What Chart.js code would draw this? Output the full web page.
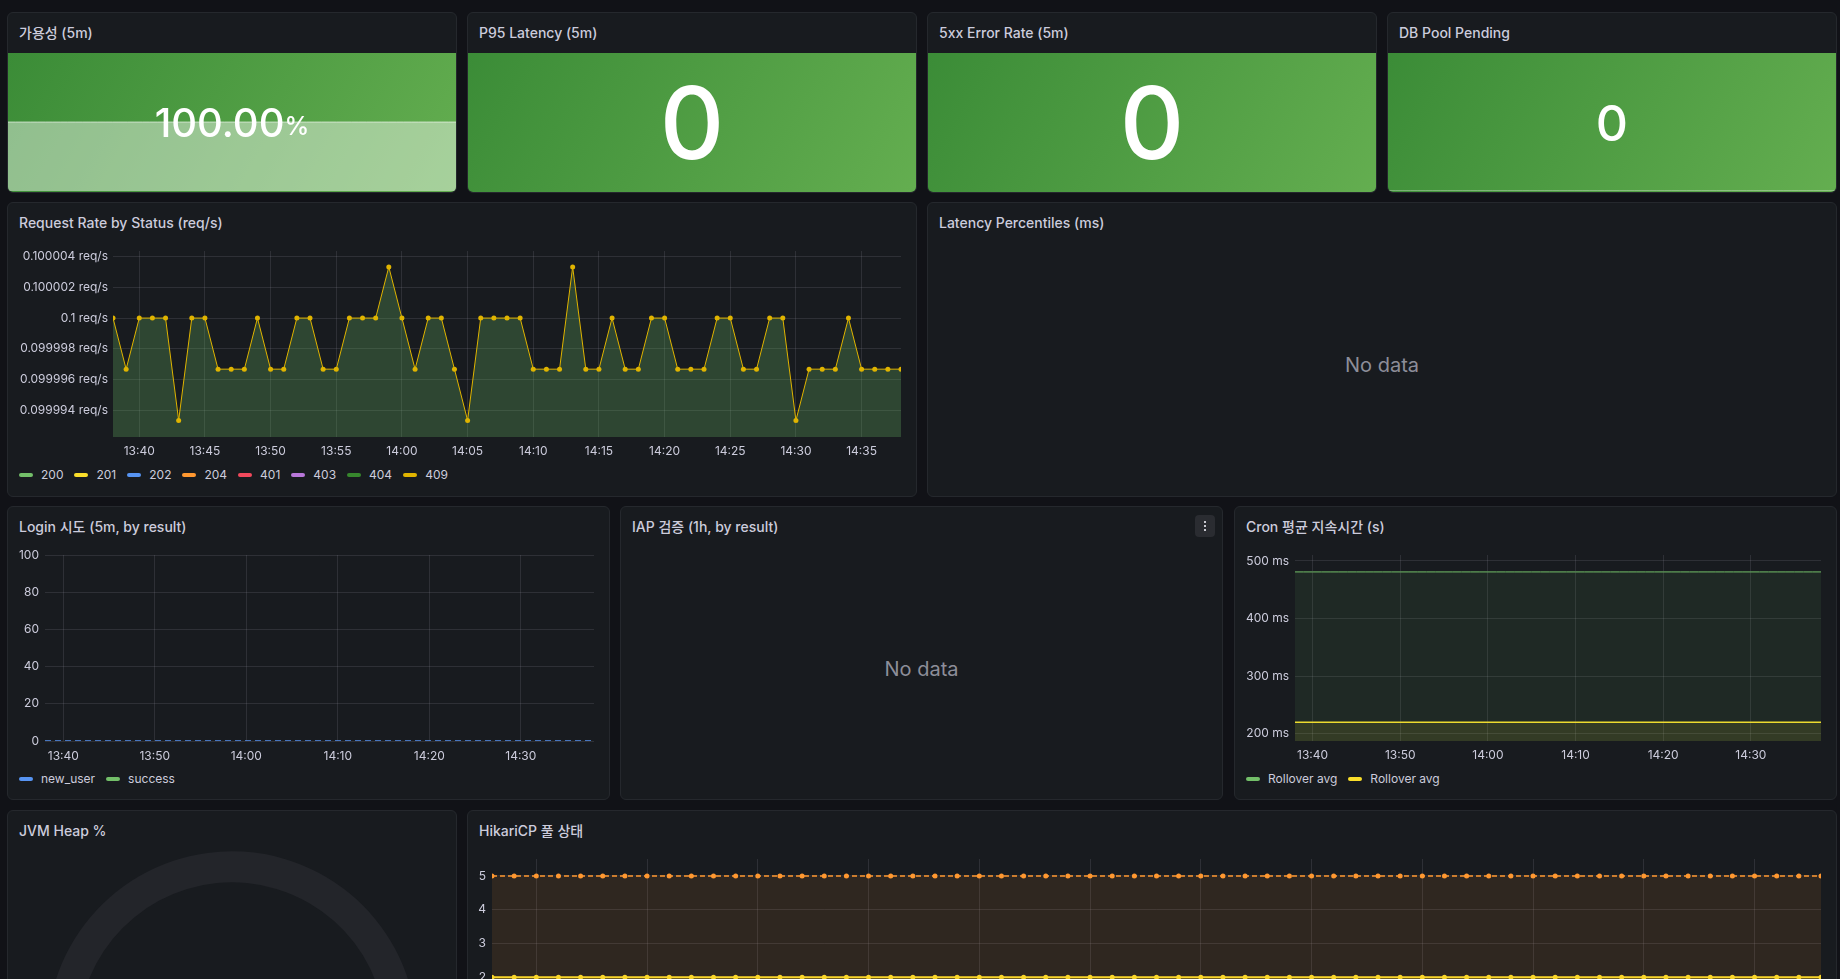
<!DOCTYPE html>
<html>
<head>
<meta charset="utf-8">
<script src="https://cdn.jsdelivr.net/npm/chart.js@4.4.1/dist/chart.umd.min.js"></script>
<style>
  body { margin: 0; width: 1840px; height: 979px; overflow: hidden; background: #111217;
         font-family: Inter, "Noto Sans CJK KR", sans-serif; color: #ccccdc; }
  .panel { position: absolute; box-sizing: border-box; background: #181b1f; border: 1px solid #25282d;
           border-radius: 6px; overflow: hidden; }
  .title { position: absolute; left: 11px; top: 11px; font-size: 14px; line-height: 18px; font-weight: 500;
           color: #ccccdc; white-space: nowrap; }
  .stat { position: absolute; left: 0; right: 0; top: 40px; bottom: 0;
          background: linear-gradient(120deg, #3b8c37, #64ae50); }
  .stat .spark { position: absolute; inset: 0; }
  .stat .value { position: absolute; inset: 0; display: flex; align-items: center; justify-content: center;
                 color: #fff; font-weight: 500; line-height: 1; }
  .plot { position: absolute; left: 0; top: 40px; height: 220px; }
  .legend { position: absolute; left: 11px; top: 264px; display: flex; gap: 11px; font-size: 12px; line-height: 16px; }
  .legend span { display: flex; align-items: center; }
  .legend i { display: inline-block; width: 14px; height: 4px; border-radius: 2px; margin-right: 8px; }
  .nodata { position: absolute; left: 0; right: 0; top: 150px; text-align: center; font-size: 20px;
            line-height: 24px; color: #8d8e99; }
  .menu { position: absolute; right: 7px; top: 8px; width: 20px; height: 22px; border-radius: 4px; background: #2a2c31;
          display: flex; flex-direction: column; align-items: center; justify-content: center; gap: 2px; }
  .menu b { width: 2px; height: 2px; background: #c8c9d0; }
</style>
</head>
<body>

<div class="panel" style="left:7px;top:12px;width:450px;height:181px">
  <div class="title">가용성 (5m)</div>
  <div class="stat">
    <div class="spark"><canvas id="availSpark"></canvas></div>
    <div class="value"><span style="font-size:40px">100.00</span><span style="font-size:25px;margin-top:8px">%</span></div>
  </div>
</div>
<div class="panel" style="left:467px;top:12px;width:450px;height:181px">
  <div class="title">P95 Latency (5m)</div>
  <div class="stat"><div class="value" id="p95Value" style="font-size:100px"></div></div>
</div>
<div class="panel" style="left:927px;top:12px;width:450px;height:181px">
  <div class="title">5xx Error Rate (5m)</div>
  <div class="stat"><div class="value" id="errValue" style="font-size:100px"></div></div>
</div>
<div class="panel" style="left:1387px;top:12px;width:450px;height:181px">
  <div class="title">DB Pool Pending</div>
  <div class="stat">
    <div class="spark"><canvas id="poolSpark"></canvas></div>
    <div class="value" id="poolValue" style="font-size:50px"></div>
  </div>
</div>

<div class="panel" style="left:7px;top:202px;width:910px;height:295px">
  <div class="title">Request Rate by Status (req/s)</div>
  <div class="plot" style="width:905px"><canvas id="requestChart"></canvas></div>
  <div class="legend" id="requestLegend"></div>
</div>
<div class="panel" style="left:927px;top:202px;width:910px;height:295px">
  <div class="title">Latency Percentiles (ms)</div>
  <div class="nodata">No data</div>
</div>

<div class="panel" style="left:7px;top:506px;width:603px;height:294px">
  <div class="title">Login 시도 (5m, by result)</div>
  <div class="plot" style="width:598px"><canvas id="loginChart"></canvas></div>
  <div class="legend" id="loginLegend"></div>
</div>
<div class="panel" style="left:620px;top:506px;width:603px;height:294px">
  <div class="title">IAP 검증 (1h, by result)</div>
  <div class="menu"><b></b><b></b><b></b></div>
  <div class="nodata">No data</div>
</div>
<div class="panel" style="left:1234px;top:506px;width:603px;height:294px">
  <div class="title">Cron 평균 지속시간 (s)</div>
  <div class="plot" style="width:598px"><canvas id="cronChart"></canvas></div>
  <div class="legend" id="cronLegend"></div>
</div>

<div class="panel" style="left:7px;top:810px;width:450px;height:294px">
  <div class="title">JVM Heap %</div>
  <div style="position:absolute;left:39px;top:40px;width:370px;height:278px"><canvas id="heapGauge"></canvas></div>
</div>
<div class="panel" style="left:467px;top:810px;width:1370px;height:294px">
  <div class="title">HikariCP 풀 상태</div>
  <div class="plot" style="width:1365px"><canvas id="hikariChart"></canvas></div>
</div>

<script>
// one sample per minute
const timeLabels = [
  '13:38', '13:39', '13:40', '13:41', '13:42', '13:43', '13:44', '13:45', '13:46', '13:47',
  '13:48', '13:49', '13:50', '13:51', '13:52', '13:53', '13:54', '13:55', '13:56', '13:57',
  '13:58', '13:59', '14:00', '14:01', '14:02', '14:03', '14:04', '14:05', '14:06', '14:07',
  '14:08', '14:09', '14:10', '14:11', '14:12', '14:13', '14:14', '14:15', '14:16', '14:17',
  '14:18', '14:19', '14:20', '14:21', '14:22', '14:23', '14:24', '14:25', '14:26', '14:27',
  '14:28', '14:29', '14:30', '14:31', '14:32', '14:33', '14:34', '14:35', '14:36', '14:37',
  '14:38'
];
const fiveMinTicks = ['13:40', '13:45', '13:50', '13:55', '14:00', '14:05', '14:10', '14:15', '14:20', '14:25', '14:30', '14:35'];
const tenMinTicks = ['13:40', '13:50', '14:00', '14:10', '14:20', '14:30'];

// stat panels
const availabilityPct = [100, 100, 100, 100, 100, 100, 100, 100, 100, 100, 100, 100, 100, 100, 100, 100, 100, 100, 100, 100,
  100, 100, 100, 100, 100, 100, 100, 100, 100, 100, 100, 100, 100, 100, 100, 100, 100, 100, 100, 100,
  100, 100, 100, 100, 100, 100, 100, 100, 100, 100, 100, 100, 100, 100, 100, 100, 100, 100, 100, 100, 100];
const poolPending = [0, 0, 0, 0, 0, 0, 0, 0, 0, 0, 0, 0, 0, 0, 0, 0, 0, 0, 0, 0, 0, 0, 0, 0, 0, 0, 0, 0, 0, 0,
  0, 0, 0, 0, 0, 0, 0, 0, 0, 0, 0, 0, 0, 0, 0, 0, 0, 0, 0, 0, 0, 0, 0, 0, 0, 0, 0, 0, 0, 0, 0];
const p95LatencyNow = 0;
const errorRateNow = 0;
const poolPendingNow = 0;

// request rate by status
const statusCodes = ['200', '201', '202', '204', '401', '403', '404', '409'];
const statusColors = ['#73bf69', '#fade2a', '#5794f2', '#ff9830', '#f2495c', '#b877d9', '#37872d', '#e0b400'];
const status409Rate = [
  0.1, 0.09999667, 0.1, 0.1, 0.1, 0.09999333, 0.1, 0.1, 0.09999667, 0.09999667,
  0.09999667, 0.1, 0.09999667, 0.09999667, 0.1, 0.1, 0.09999667, 0.09999667, 0.1, 0.1,
  0.1, 0.10000333, 0.1, 0.09999667, 0.1, 0.1, 0.09999667, 0.09999333, 0.1, 0.1,
  0.1, 0.1, 0.09999667, 0.09999667, 0.09999667, 0.10000333, 0.09999667, 0.09999667, 0.1, 0.09999667,
  0.09999667, 0.1, 0.1, 0.09999667, 0.09999667, 0.09999667, 0.1, 0.1, 0.09999667, 0.09999667,
  0.1, 0.1, 0.09999333, 0.09999667, 0.09999667, 0.09999667, 0.1, 0.09999667, 0.09999667, 0.09999667,
  0.09999667
];
const requestTickValues = [0.099994, 0.099996, 0.099998, 0.1, 0.100002, 0.100004];
const requestTickLabels = ['0.099994 req/s', '0.099996 req/s', '0.099998 req/s', '0.1 req/s', '0.100002 req/s', '0.100004 req/s'];

// login attempts
const loginNewUser = [0, 0, 0, 0, 0, 0, 0, 0, 0, 0, 0, 0, 0, 0, 0, 0, 0, 0, 0, 0, 0, 0, 0, 0, 0, 0, 0, 0, 0, 0,
  0, 0, 0, 0, 0, 0, 0, 0, 0, 0, 0, 0, 0, 0, 0, 0, 0, 0, 0, 0, 0, 0, 0, 0, 0, 0, 0, 0, 0, 0, 0];
const loginSuccess = [];
const loginTickValues = [0, 20, 40, 60, 80, 100];
const loginTickLabels = ['0', '20', '40', '60', '80', '100'];

// cron average duration (seconds)
const rolloverAvgA = [0.481, 0.481, 0.481, 0.481, 0.481, 0.481, 0.481, 0.481, 0.481, 0.481, 0.481, 0.481, 0.481, 0.481, 0.481,
  0.481, 0.481, 0.481, 0.481, 0.481, 0.481, 0.481, 0.481, 0.481, 0.481, 0.481, 0.481, 0.481, 0.481, 0.481, 0.481,
  0.481, 0.481, 0.481, 0.481, 0.481, 0.481, 0.481, 0.481, 0.481, 0.481, 0.481, 0.481, 0.481, 0.481, 0.481,
  0.481, 0.481, 0.481, 0.481, 0.481, 0.481, 0.481, 0.481, 0.481, 0.481, 0.481, 0.481, 0.481, 0.481, 0.481];
const rolloverAvgB = [0.2195, 0.2195, 0.2195, 0.2195, 0.2195, 0.2195, 0.2195, 0.2195, 0.2195, 0.2195, 0.2195, 0.2195, 0.2195,
  0.2195, 0.2195, 0.2195, 0.2195, 0.2195, 0.2195, 0.2195, 0.2195, 0.2195, 0.2195, 0.2195, 0.2195, 0.2195, 0.2195, 0.2195,
  0.2195, 0.2195, 0.2195, 0.2195, 0.2195, 0.2195, 0.2195, 0.2195, 0.2195, 0.2195, 0.2195, 0.2195, 0.2195, 0.2195, 0.2195,
  0.2195, 0.2195, 0.2195, 0.2195, 0.2195, 0.2195, 0.2195, 0.2195, 0.2195, 0.2195, 0.2195, 0.2195, 0.2195, 0.2195, 0.2195,
  0.2195, 0.2195, 0.2195];
const cronTickValues = [0.2, 0.3, 0.4, 0.5];
const cronTickLabels = ['200 ms', '300 ms', '400 ms', '500 ms'];

// jvm heap gauge
const jvmHeapPct = 14;

// hikari pool
const hikariMax = [5, 5, 5, 5, 5, 5, 5, 5, 5, 5, 5, 5, 5, 5, 5, 5, 5, 5, 5, 5, 5, 5, 5, 5, 5, 5, 5, 5, 5, 5,
  5, 5, 5, 5, 5, 5, 5, 5, 5, 5, 5, 5, 5, 5, 5, 5, 5, 5, 5, 5, 5, 5, 5, 5, 5, 5, 5, 5, 5, 5, 5];
const hikariIdle = [2, 2, 2, 2, 2, 2, 2, 2, 2, 2, 2, 2, 2, 2, 2, 2, 2, 2, 2, 2, 2, 2, 2, 2, 2, 2, 2, 2, 2, 2,
  2, 2, 2, 2, 2, 2, 2, 2, 2, 2, 2, 2, 2, 2, 2, 2, 2, 2, 2, 2, 2, 2, 2, 2, 2, 2, 2, 2, 2, 2, 2];
const hikariTickValues = [0, 1, 2, 3, 4, 5];
const hikariTickLabels = ['0', '1', '2', '3', '4', '5'];

Chart.defaults.font.family = 'Inter, "Noto Sans CJK KR", sans-serif';
Chart.defaults.font.size = 12;
Chart.defaults.color = '#ccccdc';
Chart.defaults.animation = false;
Chart.defaults.plugins.legend.display = false;
Chart.defaults.plugins.tooltip.enabled = false;

const gridColor = 'rgba(204, 204, 220, 0.12)';
const toMinutes = t => { const [h, m] = t.split(':').map(Number); return h * 60 + m; };
const xMin = toMinutes(timeLabels[0]);
const xMax = toMinutes(timeLabels[timeLabels.length - 1]);
const points = values => values.map((v, i) => ({ x: toMinutes(timeLabels[i]), y: v }));

document.getElementById('p95Value').textContent = p95LatencyNow;
document.getElementById('errValue').textContent = errorRateNow;
document.getElementById('poolValue').textContent = poolPendingNow;

// stat sparklines
function sparkline(id, values, yMin, yMax) {
  new Chart(document.getElementById(id), {
    type: 'line',
    data: { datasets: [{ data: points(values), borderColor: 'rgba(255,255,255,0.6)', borderWidth: 1,
      pointRadius: 0, fill: 'start', backgroundColor: 'rgba(255,255,255,0.43)' }] },
    options: {
      responsive: true, maintainAspectRatio: false,
      layout: { padding: { bottom: 1 } },
      scales: { x: { type: 'linear', display: false, min: xMin, max: xMax }, y: { display: false, min: yMin, max: yMax } }
    }
  });
}
sparkline('availSpark', availabilityPct, 99, 101);
sparkline('poolSpark', poolPending, 0, 1);

// time series panels
function timeSeries(id, opts) {
  return new Chart(document.getElementById(id), {
    type: 'line',
    data: { datasets: opts.datasets },
    options: {
      responsive: true, maintainAspectRatio: false,
      layout: { padding: { top: 8, right: 12, left: 0, bottom: 0 } },
      scales: {
        x: {
          type: 'linear', min: xMin, max: xMax,
          afterFit: s => { s.height = 26; s.paddingLeft = 0; s.paddingRight = 0; },
          afterBuildTicks: s => { s.ticks = opts.xTicks.map(t => ({ value: toMinutes(t) })); },
          ticks: { padding: opts.xPad || 7, maxRotation: 0, autoSkip: false, callback: (v, i) => opts.xTicks[i] },
          grid: { color: gridColor, drawTicks: false },
          border: { display: false }
        },
        y: {
          min: opts.yMin, max: opts.yMax,
          afterFit: s => { s.width = opts.yWidth; s.paddingTop = 0; s.paddingBottom = 0; },
          afterBuildTicks: s => { s.ticks = opts.yTicks.map(v => ({ value: v })); },
          ticks: { padding: opts.yPad || 5, autoSkip: false, callback: (v, i) => opts.yLabels[i] },
          grid: { color: gridColor, drawTicks: false },
          border: { display: false }
        }
      }
    }
  });
}

function legend(id, chart) {
  document.getElementById(id).innerHTML = chart.data.datasets
    .map(d => `<span><i style="background:${d.borderColor}"></i>${d.label}</span>`).join('');
}

const requestChart = timeSeries('requestChart', {
  yWidth: 105, yMin: 0.09999225, yMax: 0.10000437,
  yTicks: requestTickValues, yLabels: requestTickLabels, xTicks: fiveMinTicks,
  datasets: statusCodes.map((code, i) => ({
    label: code,
    data: code === '409' ? points(status409Rate) : [],
    borderColor: statusColors[i], borderWidth: 1, tension: 0,
    pointRadius: 2.5, pointBorderWidth: 0, pointBackgroundColor: statusColors[i],
    fill: 'start', backgroundColor: 'rgba(108, 190, 105, 0.27)'
  }))
});
legend('requestLegend', requestChart);

const loginChart = timeSeries('loginChart', {
  yWidth: 37, yPad: 6, xPad: 8, yMin: 0, yMax: 100,
  yTicks: loginTickValues, yLabels: loginTickLabels, xTicks: tenMinTicks,
  datasets: [
    { label: 'new_user', data: points(loginNewUser), borderColor: '#5794f2', borderWidth: 1.5,
      borderDash: [6, 4], pointRadius: 0, fill: false },
    { label: 'success', data: points(loginSuccess), borderColor: '#73bf69', borderWidth: 1.5, pointRadius: 0, fill: false }
  ]
});
legend('loginLegend', loginChart);

const cronChart = timeSeries('cronChart', {
  yWidth: 60, yPad: 6, yMin: 0.187, yMax: 0.5104,
  yTicks: cronTickValues, yLabels: cronTickLabels, xTicks: tenMinTicks,
  datasets: [
    { label: 'Rollover avg', data: points(rolloverAvgA), borderColor: '#73bf69', borderWidth: 1,
      pointRadius: 0, fill: 'start', backgroundColor: 'rgba(115, 191, 105, 0.09)' },
    { label: 'Rollover avg', data: points(rolloverAvgB), borderColor: '#fade2a', borderWidth: 1.5,
      pointRadius: 0, fill: 'start', backgroundColor: 'rgba(250, 222, 42, 0.1)' }
  ]
});
legend('cronLegend', cronChart);

timeSeries('hikariChart', {
  yWidth: 24, yPad: 6, yMin: 0, yMax: 5.5,
  yTicks: hikariTickValues, yLabels: hikariTickLabels, xTicks: fiveMinTicks,
  datasets: [
    { label: 'max', data: points(hikariMax), borderColor: '#ff9830', borderWidth: 1.5, borderDash: [5, 3],
      pointRadius: 2.5, pointBorderWidth: 0, pointBackgroundColor: '#ff9830',
      fill: 'start', backgroundColor: 'rgba(255, 152, 48, 0.1)' },
    { label: 'idle', data: points(hikariIdle), borderColor: '#fade2a', borderWidth: 2,
      pointRadius: 2.5, pointBorderWidth: 0, pointBackgroundColor: '#fade2a',
      fill: 'start', backgroundColor: 'rgba(250, 222, 42, 0.1)' }
  ]
});

// gauge: 240 degree arc
new Chart(document.getElementById('heapGauge'), {
  type: 'doughnut',
  data: { datasets: [{ data: [jvmHeapPct, 100 - jvmHeapPct], backgroundColor: ['#73bf69', '#23252a'], borderWidth: 0 }] },
  options: { responsive: true, maintainAspectRatio: false, rotation: -120, circumference: 240, cutout: '83.2%' }
});
</script>
</body>
</html>
